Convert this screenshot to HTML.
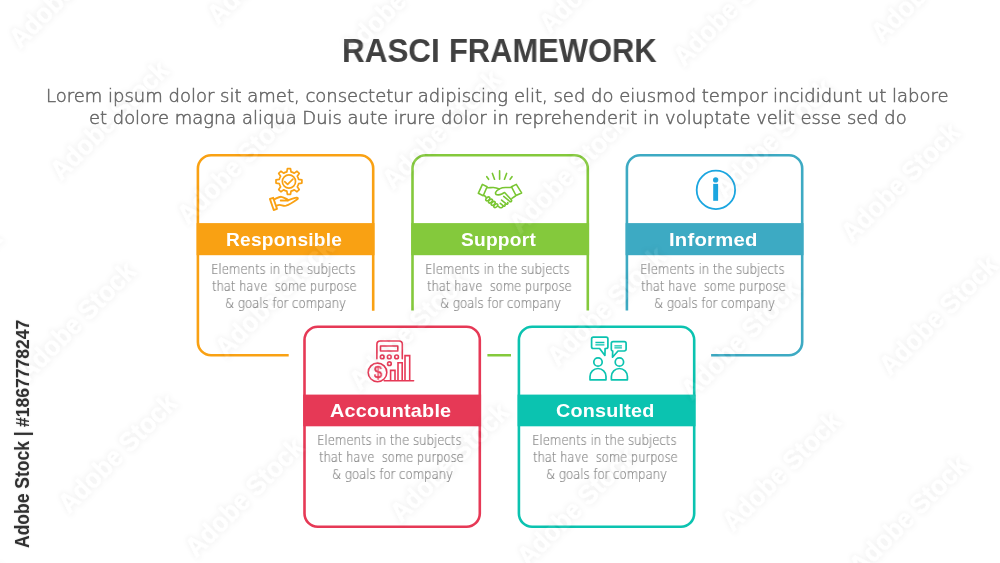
<!DOCTYPE html>
<html lang="en">
<head>
<meta charset="utf-8">
<title>RASCI Framework</title>
<style>
html,body{margin:0;padding:0;background:#fff;}
body{width:1000px;height:563px;position:relative;overflow:hidden;font-family:'Liberation Sans', sans-serif;}
#art{position:absolute;left:0;top:0;}
#title{margin:0;padding:0;font-size:inherit;font-weight:inherit;}
.t{position:absolute;white-space:pre;line-height:1;transform-origin:0 0;margin:0;will-change:transform;}
.wm{position:absolute;white-space:pre;line-height:1;font-size:27.0px;font-weight:bold;color:rgba(255,255,255,0.08);-webkit-text-stroke:0.7px rgba(255,255,255,0.08);transform:translate(-50%,-50%) rotate(-45deg) scaleX(0.9379);filter:url(#wmf);}
#wmk{position:absolute;left:0;top:0;width:1000px;height:563px;overflow:hidden;pointer-events:none;}
.side{position:absolute;white-space:pre;line-height:1;font-weight:bold;color:#303030;transform-origin:0 0;text-shadow:0 0 2px rgba(0,0,0,0.2);}

</style>
</head>
<body>

<svg id="art" width="1000" height="563" viewBox="0 0 1000 563">
<path d="M373.20,310.7V168.40A13.2,13.2 0 0 0 360.00,155.20H211.10A13.2,13.2 0 0 0 197.90,168.40V342.00A13.2,13.2 0 0 0 211.10,355.20H288.7" fill="none" stroke="#f9a113" stroke-width="2.6"/>
<rect x="196.60" y="223.10" width="177.9" height="32.10" fill="#f9a113"/>
<path d="M587.80,310.5V168.40A13.2,13.2 0 0 0 574.60,155.20H425.70A13.2,13.2 0 0 0 412.50,168.40V310.5M487.4,355.20H511" fill="none" stroke="#84c93c" stroke-width="2.6"/>
<rect x="411.20" y="223.10" width="177.9" height="32.10" fill="#84c93c"/>
<path d="M626.90,310.5V168.40A13.2,13.2 0 0 1 640.10,155.20H789.00A13.2,13.2 0 0 1 802.20,168.40V342.00A13.2,13.2 0 0 1 789.00,355.20H711.1" fill="none" stroke="#3daac3" stroke-width="2.6"/>
<rect x="625.60" y="223.10" width="177.9" height="32.10" fill="#3daac3"/>
<path d="M317.70,326.70H466.60A13.2,13.2 0 0 1 479.80,339.90V513.50A13.2,13.2 0 0 1 466.60,526.70H317.70A13.2,13.2 0 0 1 304.50,513.50V339.90A13.2,13.2 0 0 1 317.70,326.70Z" fill="none" stroke="#e63956" stroke-width="2.6"/>
<rect x="303.20" y="394.60" width="177.9" height="31.70" fill="#e63956"/>
<path d="M532.10,326.70H681.00A13.2,13.2 0 0 1 694.20,339.90V513.50A13.2,13.2 0 0 1 681.00,526.70H532.10A13.2,13.2 0 0 1 518.90,513.50V339.90A13.2,13.2 0 0 1 532.10,326.70Z" fill="none" stroke="#0bc3b0" stroke-width="2.6"/>
<rect x="517.60" y="394.60" width="177.9" height="31.70" fill="#0bc3b0"/>
<g stroke="#f9a113" stroke-width="1.7" fill="none" stroke-linecap="round" stroke-linejoin="round"><path d="M286.85,171.83L287.4,168.55L290.5,168.55L291.05,171.83A9.9,9.9 0 0 1 294.31,173.17L297.01,171.25L299.2,173.44L297.28,176.14A9.9,9.9 0 0 1 298.62,179.4L301.9,179.95L301.9,183.05L298.62,183.6A9.9,9.9 0 0 1 297.28,186.86L299.2,189.56L297.01,191.75L294.31,189.83A9.9,9.9 0 0 1 291.05,191.17L290.5,194.45L287.4,194.45L286.85,191.17A9.9,9.9 0 0 1 283.59,189.83L280.89,191.75L278.7,189.56L280.62,186.86A9.9,9.9 0 0 1 279.28,183.6L276,183.05L276,179.95L279.28,179.4A9.9,9.9 0 0 1 280.62,176.14L278.7,173.44L280.89,171.25L283.59,173.17A9.9,9.9 0 0 1 286.85,171.83Z"/><circle cx="288.95" cy="181.5" r="6.6"/><path d="M284.7,181.7L287.6,184.3L292.9,179.2"/><path d="M269.9,198.9L273.2,197.8L277.0,208.9L273.7,210.0Z" stroke-width="1.85"/><path d="M274.3,199.3C276.5,198.3 279.3,196.7 281.2,196.8C283.6,197.0 285.6,198.7 287.4,199.3C288.4,199.7 288.3,200.6 287.3,200.7L280.7,200.5" stroke-width="1.85"/><path d="M287.9,200.4C290.8,199.4 294.2,198.2 296.6,197.7C297.9,197.5 298.3,198.6 297.4,199.3C294.6,201.3 290.0,204.6 286.0,205.7C283.5,206.3 281.5,204.9 279.5,204.9C278.6,204.9 277.5,205.3 276.6,205.7" stroke-width="1.85"/></g>
<g stroke="#79c632" stroke-width="1.6" fill="none" stroke-linecap="round" stroke-linejoin="round"><path d="M499.6,170.7V179.3M492.4,173.4L494.5,179.3M506.6,173.4L504.5,179.3M486.8,176.7L488.6,179.3M512.0,176.7L510.1,179.3"/><path d="M482.4,184.4L487.1,186.8L483.2,195.7L478.3,193.3Z"/><path d="M516.3,184.4L511.5,186.8L516.0,195.5L521.6,192.9Z"/><path d="M487.4,187.8C489.4,187.9 491.6,187.4 493.4,187.5C495.6,187.6 497.6,188.2 499.4,188.9C501.2,188.0 503.4,187.5 505.6,187.5C507.8,187.5 509.8,187.6 511.6,187.3"/><path d="M499.4,188.9C497.6,189.7 496.2,191.0 495.7,192.2C495.2,193.4 495.7,194.5 497.0,194.8C498.6,195.1 500.4,194.7 501.8,194.0C502.8,193.5 503.7,192.9 504.6,192.5L511.3,199.8C512.2,200.9 510.9,202.3 509.8,201.5"/><path d="M503.7,196.4L509.8,201.5M501.6,200.1L506.2,203.9C507.2,204.8 508.6,203.4 507.7,202.5M500.3,203.3L503.4,205.9C504.4,206.8 505.8,205.4 504.9,204.5M498.6,206.6C499.6,207.8 500.8,208.0 501.8,207.6C502.8,207.2 503.2,206.3 502.6,205.4"/><path d="M515.4,196.0L511.9,198.4"/><path d="M484.5,195.7L486.2,197.3"/><ellipse cx="487.8" cy="198.9" rx="2.3" ry="1.45" transform="rotate(-42 487.8 198.9)"/><ellipse cx="490.5" cy="201.1" rx="2.3" ry="1.45" transform="rotate(-42 490.5 201.1)"/><ellipse cx="493.2" cy="203.4" rx="2.3" ry="1.45" transform="rotate(-42 493.2 203.4)"/><ellipse cx="495.8" cy="205.7" rx="2.3" ry="1.45" transform="rotate(-42 495.8 205.7)"/></g>
<g><circle cx="715.9" cy="189.9" r="19.2" fill="none" stroke="#1ba6e0" stroke-width="1.8"/><circle cx="715.65" cy="179.9" r="2.65" fill="#1ba6e0"/><rect x="713.2" y="183.9" width="4.9" height="16.9" fill="#1ba6e0"/></g>
<g stroke="#e63956" stroke-width="1.6" fill="none" stroke-linecap="round" stroke-linejoin="round"><path d="M376.9,358.7V344.3A3.3,3.3 0 0 1 380.2,341H399.0A3.3,3.3 0 0 1 402.3,344.3V358.7"/><rect x="380.5" y="346.0" width="17.3" height="5.0"/><circle cx="382.2" cy="356.9" r="1.85"/><circle cx="389.3" cy="356.9" r="1.85"/><circle cx="396.6" cy="356.9" r="1.85"/><circle cx="389.4" cy="363.7" r="1.85"/><circle cx="377.5" cy="372.4" r="9.3"/><path d="M390.6,380.7V370.4H395.0V380.7M398.0,380.7V362.8H402.2V380.7M405.0,380.7V355.6H409.7V380.7" stroke-linecap="butt" stroke-linejoin="miter"/><path d="M384.2,380.8H413.6"/></g>
<g stroke="#0bc3b0" stroke-width="1.7" fill="none" stroke-linecap="round" stroke-linejoin="round"><path d="M593.4,337.1H606.1A1.8,1.8 0 0 1 607.9,338.90000000000003V346.7A1.8,1.8 0 0 1 606.1,348.5H605.1L604.9,355.5L599.6,348.5H593.4A1.8,1.8 0 0 1 591.6,346.7V338.90000000000003A1.8,1.8 0 0 1 593.4,337.1Z"/><path d="M595.4,342.5H604.4M595.4,344.9H604.4" stroke-linecap="butt" stroke-width="1.35"/><path d="M613.0999999999999,341.7H624.3000000000001A1.8,1.8 0 0 1 626.1,343.5V349.2A1.8,1.8 0 0 1 624.3000000000001,351.0H618.0L612.5,357.2L612.7,351.0A1.8,1.8 0 0 1 611.3,349.2V343.5A1.8,1.8 0 0 1 613.0999999999999,341.7Z"/><path d="M614.4,345.8H621.9M614.4,347.9H621.9" stroke-linecap="butt" stroke-width="1.35"/><circle cx="598.0" cy="362.0" r="4.2"/><path d="M590.00,379.8V376.5A8,8 0 0 1 606.00,376.5V379.8Z"/><circle cx="619.4" cy="362.0" r="4.2"/><path d="M611.40,379.8V376.5A8,8 0 0 1 627.40,376.5V379.8Z"/></g>
</svg>
<h1 id="title"><span class="t" style="left:342.36px;top:35.00px;font-size:32.5px;font-weight:bold;color:#404040;transform:scaleX(0.9674);">RASCI</span> <span class="t" style="left:448.79px;top:35.00px;font-size:32.5px;font-weight:bold;color:#404040;transform:scaleX(0.9505);">FRAMEWORK</span></h1>
<div class="t" style="left:45.84px;top:88.00px;font-size:17.5px;font-weight:200;color:#666666;transform:scaleX(1.0286);font-family:'DejaVu Sans','Liberation Sans',sans-serif;-webkit-text-stroke:0.5px #666666;">Lorem ipsum dolor sit amet, consectetur adipiscing elit, sed do eiusmod tempor incididunt ut labore</div>
<div class="t" style="left:88.66px;top:110.00px;font-size:17.5px;font-weight:200;color:#666666;transform:scaleX(1.0243);font-family:'DejaVu Sans','Liberation Sans',sans-serif;-webkit-text-stroke:0.5px #666666;">et dolore magna aliqua Duis aute irure dolor in reprehenderit in voluptate velit esse sed do</div>
<div class="t" style="left:226.36px;top:231.00px;font-size:18.2px;font-weight:bold;color:#ffffff;transform:scaleX(1.0520);letter-spacing:0.2px;">Responsible</div>
<div class="t" style="left:210.59px;top:263.00px;font-size:13.2px;font-weight:200;color:#808080;transform:scaleX(0.8906);font-family:'DejaVu Sans','Liberation Sans',sans-serif;-webkit-text-stroke:0.2px #808080;">Elements in the subjects</div>
<div class="t" style="left:212.08px;top:280.00px;font-size:13.2px;font-weight:200;color:#808080;transform:scaleX(0.8747);font-family:'DejaVu Sans','Liberation Sans',sans-serif;-webkit-text-stroke:0.2px #808080;">that have  some purpose</div>
<div class="t" style="left:225.00px;top:297.00px;font-size:13.2px;font-weight:200;color:#808080;transform:scaleX(0.8872);font-family:'DejaVu Sans','Liberation Sans',sans-serif;-webkit-text-stroke:0.2px #808080;">&amp; goals for company</div>
<div class="t" style="left:461.02px;top:231.00px;font-size:18.2px;font-weight:bold;color:#ffffff;transform:scaleX(1.0547);letter-spacing:0.2px;">Support</div>
<div class="t" style="left:425.19px;top:263.00px;font-size:13.2px;font-weight:200;color:#808080;transform:scaleX(0.8906);font-family:'DejaVu Sans','Liberation Sans',sans-serif;-webkit-text-stroke:0.2px #808080;">Elements in the subjects</div>
<div class="t" style="left:426.68px;top:280.00px;font-size:13.2px;font-weight:200;color:#808080;transform:scaleX(0.8747);font-family:'DejaVu Sans','Liberation Sans',sans-serif;-webkit-text-stroke:0.2px #808080;">that have  some purpose</div>
<div class="t" style="left:439.60px;top:297.00px;font-size:13.2px;font-weight:200;color:#808080;transform:scaleX(0.8872);font-family:'DejaVu Sans','Liberation Sans',sans-serif;-webkit-text-stroke:0.2px #808080;">&amp; goals for company</div>
<div class="t" style="left:668.98px;top:231.00px;font-size:18.2px;font-weight:bold;color:#ffffff;transform:scaleX(1.1148);letter-spacing:0.2px;">Informed</div>
<div class="t" style="left:639.59px;top:263.00px;font-size:13.2px;font-weight:200;color:#808080;transform:scaleX(0.8906);font-family:'DejaVu Sans','Liberation Sans',sans-serif;-webkit-text-stroke:0.2px #808080;">Elements in the subjects</div>
<div class="t" style="left:641.08px;top:280.00px;font-size:13.2px;font-weight:200;color:#808080;transform:scaleX(0.8747);font-family:'DejaVu Sans','Liberation Sans',sans-serif;-webkit-text-stroke:0.2px #808080;">that have  some purpose</div>
<div class="t" style="left:654.00px;top:297.00px;font-size:13.2px;font-weight:200;color:#808080;transform:scaleX(0.8872);font-family:'DejaVu Sans','Liberation Sans',sans-serif;-webkit-text-stroke:0.2px #808080;">&amp; goals for company</div>
<div class="t" style="left:330.30px;top:402.00px;font-size:18.2px;font-weight:bold;color:#ffffff;transform:scaleX(1.0899);letter-spacing:0.2px;">Accountable</div>
<div class="t" style="left:317.49px;top:434.00px;font-size:13.2px;font-weight:200;color:#808080;transform:scaleX(0.8906);font-family:'DejaVu Sans','Liberation Sans',sans-serif;-webkit-text-stroke:0.2px #808080;">Elements in the subjects</div>
<div class="t" style="left:318.98px;top:451.00px;font-size:13.2px;font-weight:200;color:#808080;transform:scaleX(0.8747);font-family:'DejaVu Sans','Liberation Sans',sans-serif;-webkit-text-stroke:0.2px #808080;">that have  some purpose</div>
<div class="t" style="left:331.90px;top:468.00px;font-size:13.2px;font-weight:200;color:#808080;transform:scaleX(0.8872);font-family:'DejaVu Sans','Liberation Sans',sans-serif;-webkit-text-stroke:0.2px #808080;">&amp; goals for company</div>
<div class="t" style="left:555.91px;top:402.00px;font-size:18.2px;font-weight:bold;color:#ffffff;transform:scaleX(1.0863);letter-spacing:0.2px;">Consulted</div>
<div class="t" style="left:531.59px;top:434.00px;font-size:13.2px;font-weight:200;color:#808080;transform:scaleX(0.8906);font-family:'DejaVu Sans','Liberation Sans',sans-serif;-webkit-text-stroke:0.2px #808080;">Elements in the subjects</div>
<div class="t" style="left:533.08px;top:451.00px;font-size:13.2px;font-weight:200;color:#808080;transform:scaleX(0.8747);font-family:'DejaVu Sans','Liberation Sans',sans-serif;-webkit-text-stroke:0.2px #808080;">that have  some purpose</div>
<div class="t" style="left:546.00px;top:468.00px;font-size:13.2px;font-weight:200;color:#808080;transform:scaleX(0.8872);font-family:'DejaVu Sans','Liberation Sans',sans-serif;-webkit-text-stroke:0.2px #808080;">&amp; goals for company</div>
<div class="t" style="left:373.76px;top:365.00px;font-size:15.7px;font-weight:normal;color:#e63956;transform:scaleX(0.9167);-webkit-text-stroke:0.5px #e63956;">$</div>
<svg width="0" height="0" style="position:absolute" aria-hidden="true"><defs><filter id="wmf" x="-20%" y="-60%" width="140%" height="220%" color-interpolation-filters="sRGB"><feColorMatrix in="SourceAlpha" type="matrix" values="0 0 0 0 0  0 0 0 0 0  0 0 0 0 0  0 0 0 14 0" result="a"/><feGaussianBlur in="a" stdDeviation="3" result="b"/><feComposite in="b" in2="a" operator="out" result="o"/><feColorMatrix in="o" type="matrix" values="0 0 0 0 0  0 0 0 0 0  0 0 0 0 0  0 0 0 0.07 0" result="g"/><feColorMatrix in="a" type="matrix" values="0 0 0 0 1  0 0 0 0 1  0 0 0 0 1  0 0 0 0.07 0" result="w"/><feMerge><feMergeNode in="g"/><feMergeNode in="w"/></feMerge></filter></defs></svg>
<div id="wmk" aria-hidden="true"><div class="wm" style="left:68.5px;top:-11.5px">Adobe Stock</div><div class="wm" style="left:76.5px;top:321.5px">Adobe Stock</div><div class="wm" style="left:400.5px;top:-2.5px">Adobe Stock</div><div class="wm" style="left:408.5px;top:330.5px">Adobe Stock</div><div class="wm" style="left:732.5px;top:6.5px">Adobe Stock</div><div class="wm" style="left:740.5px;top:339.5px">Adobe Stock</div><div class="wm" style="left:1064.5px;top:15.5px">Adobe Stock</div><div class="wm" style="left:-65.5px;top:-44.5px">Adobe Stock</div><div class="wm" style="left:-57.5px;top:288.5px">Adobe Stock</div><div class="wm" style="left:-49.5px;top:621.5px">Adobe Stock</div><div class="wm" style="left:266.5px;top:-35.5px">Adobe Stock</div><div class="wm" style="left:274.5px;top:297.5px">Adobe Stock</div><div class="wm" style="left:282.5px;top:630.5px">Adobe Stock</div><div class="wm" style="left:598.5px;top:-26.5px">Adobe Stock</div><div class="wm" style="left:606.5px;top:306.5px">Adobe Stock</div><div class="wm" style="left:930.5px;top:-17.5px">Adobe Stock</div><div class="wm" style="left:938.5px;top:315.5px">Adobe Stock</div><div class="wm" style="left:109.5px;top:120.5px">Adobe Stock</div><div class="wm" style="left:117.5px;top:453.5px">Adobe Stock</div><div class="wm" style="left:441.5px;top:129.5px">Adobe Stock</div><div class="wm" style="left:449.5px;top:462.5px">Adobe Stock</div><div class="wm" style="left:773.5px;top:138.5px">Adobe Stock</div><div class="wm" style="left:781.5px;top:471.5px">Adobe Stock</div><div class="wm" style="left:236.5px;top:164.5px">Adobe Stock</div><div class="wm" style="left:244.5px;top:497.5px">Adobe Stock</div><div class="wm" style="left:568.5px;top:173.5px">Adobe Stock</div><div class="wm" style="left:576.5px;top:506.5px">Adobe Stock</div><div class="wm" style="left:900.5px;top:182.5px">Adobe Stock</div><div class="wm" style="left:908.5px;top:515.5px">Adobe Stock</div></div>
<div id="side"><span class="side" style="left:12.00px;top:548.35px;font-size:20.0px;transform:rotate(-90deg) scaleX(0.8746);">Adobe Stock | </span><span class="side" style="left:15.00px;top:426.96px;font-size:17.6px;transform:rotate(-90deg) scaleX(0.9973);">#1867778247</span></div>
</body>
</html>
